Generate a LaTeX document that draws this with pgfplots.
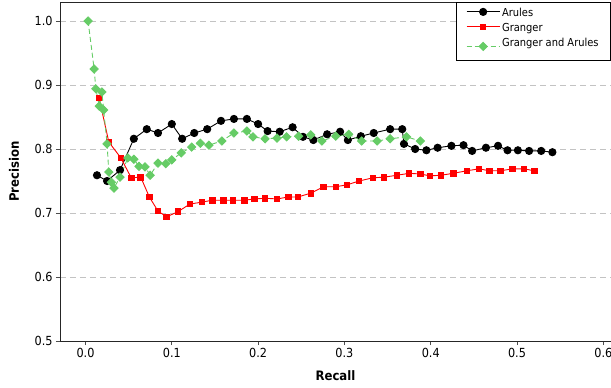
\documentclass[border=0pt]{standalone}
\usepackage{pgfplots}
\pgfplotsset{compat=1.18}
\usepackage{fontspec}
\setmainfont{DejaVu Sans Condensed}
\definecolor{sred}{RGB}{255,0,0}
\definecolor{sgreen}{RGB}{102,204,102}
\definecolor{gridgray}{RGB}{195,195,195}
\begin{document}
\begin{tikzpicture}
\begin{axis}[
  at={(0,0)}, anchor=south west,
  scale only axis,
  width=551bp, height=339bp,
  xmin=-0.02955, xmax=0.6089,
  ymin=0.5, ymax=1.0297,
  xtick={0,0.1,0.2,0.3,0.4,0.5,0.6},
  ytick={0.5,0.6,0.7,0.8,0.9,1.0},
  xticklabels={0.0,0.1,0.2,0.3,0.4,0.5,0.6},
  yticklabels={0.5,0.6,0.7,0.8,0.9,1.0},
  xtick pos=bottom, ytick pos=left,
  tick align=outside,
  major tick length=4bp,
  tick style={black!70, line width=0.8bp},
  axis line style={black!85, line width=0.9bp},
  ymajorgrids,
  grid style={gridgray, line width=0.8bp, dash pattern=on 6bp off 4bp},
  /pgf/number format/assume math mode=true,
  tick label style={font=\fontsize{12.5bp}{14bp}\selectfont},
  xlabel={Recall}, ylabel={Precision},
  label style={font=\fontsize{13bp}{15bp}\selectfont\bfseries},
  xlabel style={at={(axis description cs:0.5,0)}, anchor=center, yshift=-35bp},
  ylabel style={at={([xshift=-46bp]axis description cs:0,0.5)}, anchor=center},
  legend style={at={(axis description cs:1,1)}, anchor=north east,
    draw=black, line width=0.8bp, fill=white,
    font=\fontsize{11bp}{13bp}\selectfont,
    inner xsep=10bp, inner ysep=2bp,
    nodes={inner ysep=0.5bp, text height=12bp, text depth=2bp},
    row sep=0bp},
  legend cell align=left,
  legend image code/.code={\draw[mark repeat=2,mark phase=2] plot coordinates {(0bp,0bp) (16.5bp,0bp) (33bp,0bp)};},
]
\addplot[black, line width=0.9bp, mark=*, mark size=3.6bp, mark options={solid, fill=black}] coordinates {
(0.0133,0.759) (0.025,0.750) (0.040,0.767) (0.056,0.816) (0.071,0.831)
(0.084,0.825) (0.100,0.839) (0.112,0.816) (0.126,0.825) (0.141,0.831)
(0.157,0.844) (0.172,0.847) (0.187,0.847) (0.200,0.839) (0.211,0.828)
(0.225,0.827) (0.240,0.834) (0.252,0.819) (0.264,0.814) (0.280,0.823)
(0.295,0.827) (0.304,0.814) (0.319,0.820) (0.334,0.825) (0.353,0.831)
(0.367,0.831) (0.369,0.808) (0.382,0.800) (0.395,0.798) (0.408,0.802)
(0.424,0.805) (0.438,0.806) (0.448,0.797) (0.464,0.802) (0.478,0.805)
(0.489,0.798) (0.501,0.798) (0.514,0.797) (0.528,0.797) (0.541,0.795)
};
\addlegendentry{Arules}
\addplot[sred, line width=0.9bp, mark=square*, mark size=2.8bp, mark options={solid, fill=sred}] coordinates {
(0.0157,0.880) (0.027,0.811) (0.041,0.786) (0.053,0.755) (0.064,0.756)
(0.074,0.725) (0.084,0.703) (0.094,0.694) (0.107,0.702) (0.121,0.714)
(0.135,0.717) (0.147,0.720) (0.160,0.720) (0.171,0.720) (0.184,0.720)
(0.196,0.722) (0.208,0.723) (0.222,0.722) (0.235,0.725) (0.246,0.725)
(0.261,0.731) (0.276,0.741) (0.290,0.741) (0.303,0.744) (0.317,0.750)
(0.333,0.755) (0.346,0.756) (0.361,0.759) (0.375,0.762) (0.388,0.761)
(0.399,0.758) (0.412,0.759) (0.426,0.762) (0.442,0.766) (0.456,0.769)
(0.468,0.766) (0.481,0.766) (0.495,0.769) (0.508,0.769) (0.520,0.766)
};
\addlegendentry{Granger}
\addplot[sgreen, line width=0.9bp, dash pattern=on 5bp off 3bp, mark=square*, mark size=2.9bp, mark options={solid, fill=sgreen, rotate=45}] coordinates {
(0.003,1.000) (0.010,0.925) (0.012,0.894) (0.016,0.867) (0.019,0.889)
(0.021,0.861) (0.025,0.808) (0.027,0.764) (0.030,0.748) (0.033,0.739)
(0.040,0.756) (0.049,0.786) (0.056,0.784) (0.062,0.773) (0.069,0.772)
(0.075,0.759) (0.084,0.778) (0.093,0.777) (0.100,0.783) (0.111,0.794)
(0.123,0.803) (0.133,0.809) (0.143,0.806) (0.158,0.8125) (0.172,0.825)
(0.187,0.828) (0.194,0.819) (0.208,0.816) (0.222,0.817) (0.233,0.819)
(0.247,0.820) (0.261,0.822) (0.274,0.8125) (0.290,0.820) (0.305,0.823)
(0.320,0.8125) (0.338,0.8125) (0.353,0.816) (0.372,0.819) (0.388,0.8125)
};
\addlegendentry[text depth=11bp]{Granger and Arules}
\end{axis}
\pgfresetboundingbox
\path[use as bounding box] (-60bp,-47bp) rectangle (551bp,341bp);
\end{tikzpicture}
\end{document}
